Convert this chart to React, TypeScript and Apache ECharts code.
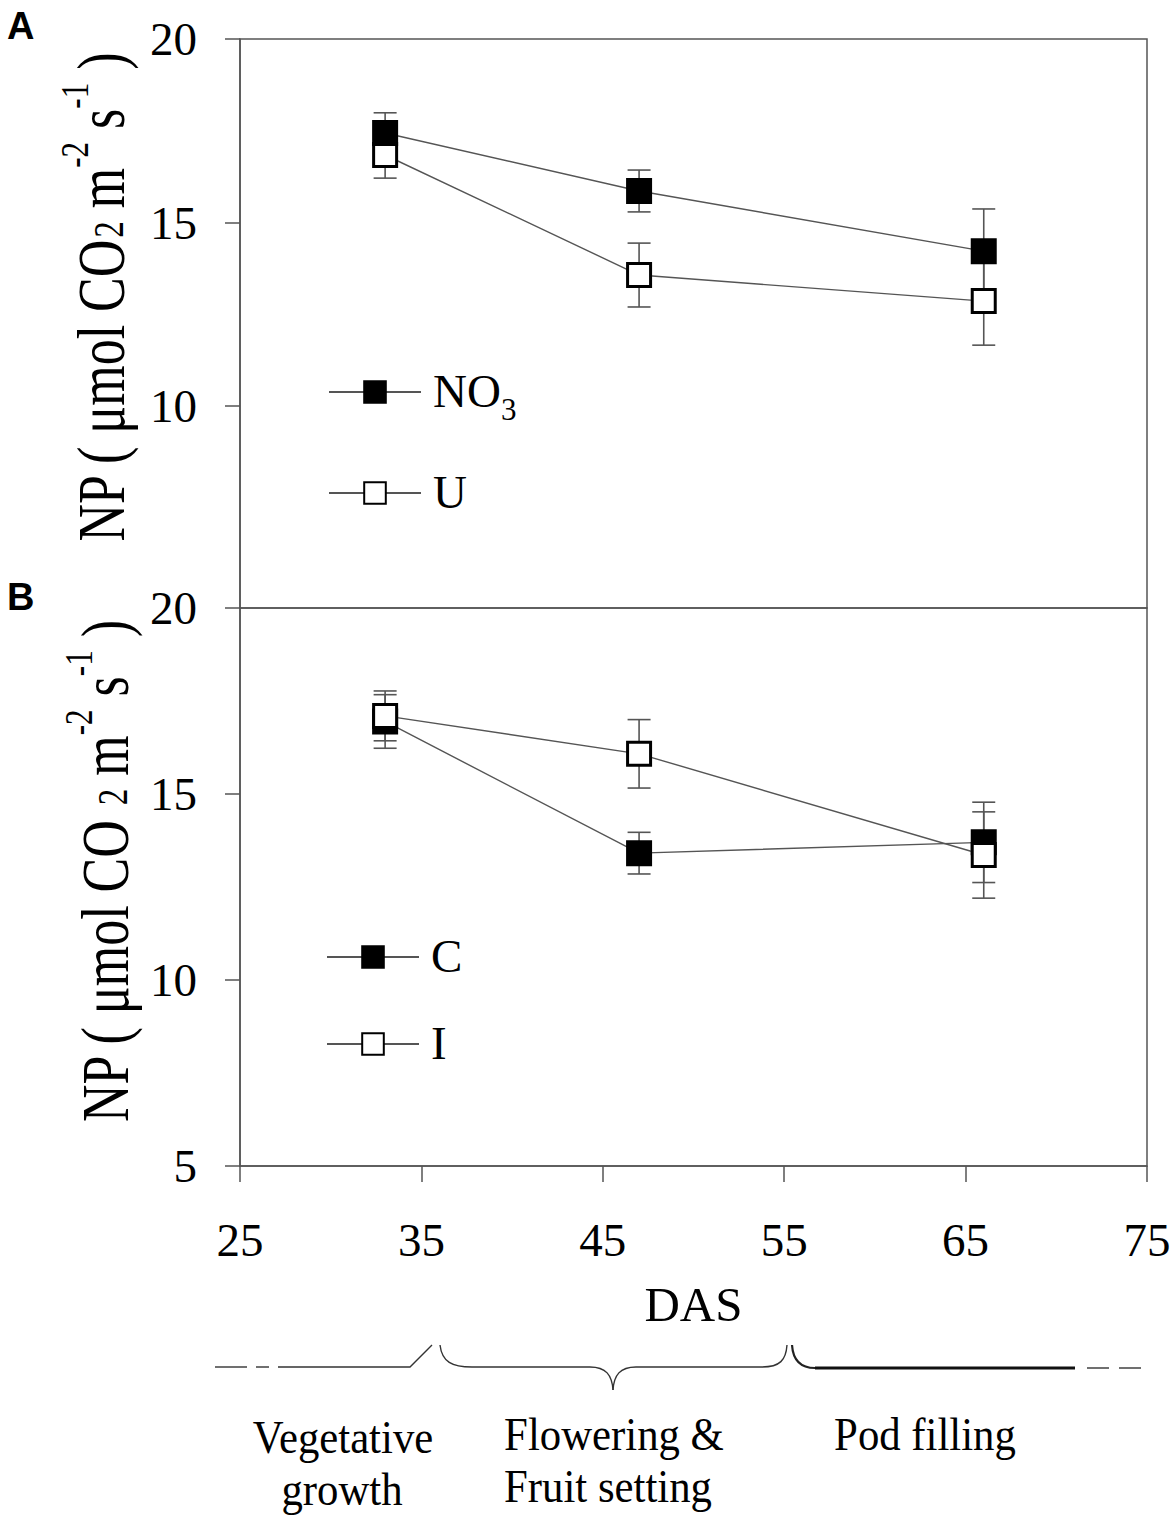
import React, { useEffect, useRef } from "react";
import * as echarts from "echarts";

// ---- data ----
const days = [33, 47, 66];
const no3 = [17.44, 15.86, 14.22];
const no3Err = [0.55, 0.57, 1.15];
const urea = [16.84, 13.57, 12.86];
const ureaErr = [0.63, 0.87, 1.2];
const ctrl = [16.95, 13.41, 13.7];
const ctrlErr = [0.72, 0.56, 1.08];
const inoc = [17.1, 16.08, 13.36];
const inocErr = [0.67, 0.92, 1.16];

const xMin = 25;
const xMax = 75;
const xStep = 10;
const yRangeA = [4.5, 20];
const yTicksA = [10, 15, 20];
const yRangeB = [5, 20];
const yStep = 5;

const stageLabels = [
  ["Vegetative", "growth"],
  ["Flowering &", "Fruit setting"],
  ["Pod filling"],
];

const SERIF = "Liberation Serif";
const GRAY = "#555";

function pairs(vals: number[]) {
  return days.map((d, i) => [d, vals[i]]);
}
function errPairs(vals: number[], errs: number[]) {
  return days.map((d, i) => [d, vals[i], errs[i]]);
}

const errRender = (params: any, api: any) => {
  const x = api.value(0);
  const y = api.value(1);
  const e = api.value(2);
  const top = api.coord([x, y + e]);
  const bot = api.coord([x, y - e]);
  const cap = 11.5;
  const st = { stroke: GRAY, lineWidth: 1.6 };
  return {
    type: "group",
    children: [
      { type: "line", shape: { x1: top[0], y1: top[1], x2: bot[0], y2: bot[1] }, style: st },
      { type: "line", shape: { x1: top[0] - cap, y1: top[1], x2: top[0] + cap, y2: top[1] }, style: st },
      { type: "line", shape: { x1: bot[0] - cap, y1: bot[1], x2: bot[0] + cap, y2: bot[1] }, style: st },
    ],
  };
};

function lineSeries(name: string, vals: number[], idx: number, filled: boolean, z: number) {
  return {
    type: "line",
    name,
    xAxisIndex: idx,
    yAxisIndex: idx,
    data: pairs(vals),
    symbol: "rect",
    symbolSize: 23,
    z,
    lineStyle: { color: GRAY, width: 1.4 },
    itemStyle: {
      color: filled ? "#000" : "#fff",
      borderColor: "#000",
      borderWidth: 3,
    },
  };
}

function errSeries(name: string, vals: number[], errs: number[], idx: number) {
  return {
    type: "custom",
    name,
    xAxisIndex: idx,
    yAxisIndex: idx,
    data: errPairs(vals, errs),
    encode: { x: 0, y: 1 },
    renderItem: errRender,
    z: 1,
  };
}

const legendRich = {
  m: { fontFamily: SERIF, fontSize: 47, lineHeight: 50, verticalAlign: "top", color: "#000", padding: [0, 0, 0, 7] },
  s: { fontFamily: SERIF, fontSize: 31, lineHeight: 31, verticalAlign: "top", color: "#000", padding: [27, 0, 0, 0] },
};

const legendFormatter = (name: string) => {
  if (name === "NO3") return "{m|NO}{s|3}";
  return "{m|" + name + "}{s| }";
};

function measure(text: string, fs: number) {
  const ctx = document.createElement("canvas").getContext("2d");
  if (!ctx) return text.length * fs * 0.5;
  ctx.font = fs + 'px "' + SERIF + '"';
  return ctx.measureText(text).width;
}

// pieces of the y-axis title: [text, fontSize, vertical offset in the text frame]
function titlePieces(gap: string): [string, number, number][] {
  return [
    ["NP ( μmol CO" + gap, 52, 0],
    ["2", 33, 6],
    [" m", 52, 0],
    ["-2", 31, -20],
    [" s", 52, 0],
    ["-1", 31, -20],
    [" )", 52, 0],
  ];
}

function yTitle(cx: number, cy: number, gap: string) {
  const pieces = titlePieces(gap);
  const widths = pieces.map((p) => measure(p[0], p[1]));
  const total = widths.reduce((a, b) => a + b, 0);
  let cursor = -total / 2;
  const children = pieces.map((p, i) => {
    const el = {
      type: "text",
      x: cursor,
      y: p[2],
      style: {
        text: p[0],
        fontFamily: SERIF,
        fontSize: p[1],
        fill: "#000",
        align: "left",
        verticalAlign: "middle",
      },
    };
    cursor += widths[i];
    return el;
  });
  return {
    type: "group",
    x: cx,
    y: cy,
    rotation: Math.PI / 2,
    scaleY: 1.3,
    children,
  };
}

function stageText(text: string, x: number, y: number) {
  return {
    type: "text",
    x,
    y,
    scaleX: 0.93,
    style: {
      text,
      fontFamily: SERIF,
      fontSize: 46,
      fill: "#000",
      align: "center",
      verticalAlign: "middle",
    },
  };
}

const decoStyle = { stroke: "#333", lineWidth: 1.4, fill: null };

export default function App() {
  const ref = useRef<HTMLDivElement>(null);
  useEffect(() => {
    if (!ref.current) return;
    const chart = echarts.init(ref.current, null, { renderer: "svg" });
    const axisLabelStyle = { fontFamily: SERIF, fontSize: 47, color: "#000" };
    const option: any = {
      animation: false,
      backgroundColor: "#fff",
      grid: [
        { left: 240, top: 39, width: 907, height: 569, show: true, borderColor: GRAY, borderWidth: 1.5 },
        { left: 240, top: 608, width: 907, height: 558, show: true, borderColor: GRAY, borderWidth: 1.5 },
      ],
      xAxis: [
        { type: "value", gridIndex: 0, min: xMin, max: xMax, interval: xStep, show: false },
        {
          type: "value",
          gridIndex: 1,
          min: xMin,
          max: xMax,
          interval: xStep,
          axisLine: { show: true, lineStyle: { color: GRAY, width: 1.5 } },
          axisTick: { show: true, inside: false, length: 16, lineStyle: { color: GRAY, width: 1.5 } },
          axisLabel: { ...axisLabelStyle, margin: 50 },
          splitLine: { show: false },
          name: "DAS",
          nameLocation: "middle",
          nameGap: 114,
          nameTextStyle: { fontFamily: SERIF, fontSize: 49, color: "#000" },
        },
      ],
      yAxis: [
        {
          type: "value",
          gridIndex: 0,
          min: yRangeA[0],
          max: yRangeA[1],
          axisLine: { show: true, lineStyle: { color: GRAY, width: 1.5 } },
          axisTick: { show: true, inside: false, length: 15, customValues: yTicksA, lineStyle: { color: GRAY, width: 1.5 } },
          axisLabel: { ...axisLabelStyle, margin: 43, customValues: yTicksA },
          splitLine: { show: false },
        },
        {
          type: "value",
          gridIndex: 1,
          min: yRangeB[0],
          max: yRangeB[1],
          interval: yStep,
          axisLine: { show: true, lineStyle: { color: GRAY, width: 1.5 } },
          axisTick: { show: true, inside: false, length: 15, lineStyle: { color: GRAY, width: 1.5 } },
          axisLabel: { ...axisLabelStyle, margin: 43 },
          splitLine: { show: false },
        },
      ],
      legend: [
        {
          data: ["NO3", "U"],
          orient: "vertical",
          left: 328,
          top: 367,
          itemWidth: 92,
          itemHeight: 27,
          itemGap: 43,
          padding: 0,
          formatter: legendFormatter,
          textStyle: { rich: legendRich },
          selectedMode: false,
        },
        {
          data: ["C", "I"],
          orient: "vertical",
          left: 326,
          top: 932,
          itemWidth: 92,
          itemHeight: 27,
          itemGap: 29,
          padding: 0,
          formatter: legendFormatter,
          textStyle: { rich: legendRich },
          selectedMode: false,
        },
      ],
      series: [
        errSeries("NO3 err", no3, no3Err, 0),
        errSeries("U err", urea, ureaErr, 0),
        lineSeries("U", urea, 0, false, 3),
        lineSeries("NO3", no3, 0, true, 4),
        errSeries("C err", ctrl, ctrlErr, 1),
        errSeries("I err", inoc, inocErr, 1),
        lineSeries("C", ctrl, 1, true, 3),
        lineSeries("I", inoc, 1, false, 4),
      ],
      graphic: [
        { type: "text", x: 7, y: 7, style: { text: "A", fontFamily: "Liberation Sans", fontWeight: "bold", fontSize: 38, fill: "#000" } },
        { type: "text", x: 7, y: 578, style: { text: "B", fontFamily: "Liberation Sans", fontWeight: "bold", fontSize: 38, fill: "#000" } },
        yTitle(101, 297, ""),
        yTitle(105, 871, " "),
        // stage braces
        { type: "line", shape: { x1: 215, y1: 1367, x2: 247, y2: 1367 }, style: decoStyle },
        { type: "line", shape: { x1: 256, y1: 1367, x2: 269, y2: 1367 }, style: decoStyle },
        { type: "polyline", shape: { points: [[278, 1367], [410, 1367], [432, 1345]] }, style: decoStyle },
        { type: "bezierCurve", shape: { x1: 440, y1: 1345, cpx1: 442, cpy1: 1362, cpx2: 452, cpy2: 1367, x2: 472, y2: 1367 }, style: decoStyle },
        { type: "line", shape: { x1: 472, y1: 1367, x2: 590, y2: 1367 }, style: decoStyle },
        { type: "bezierCurve", shape: { x1: 590, y1: 1367, cpx1: 606, cpy1: 1367, cpx2: 612, cpy2: 1375, x2: 613, y2: 1390 }, style: decoStyle },
        { type: "bezierCurve", shape: { x1: 613, y1: 1390, cpx1: 614, cpy1: 1375, cpx2: 620, cpy2: 1367, x2: 636, y2: 1367 }, style: decoStyle },
        { type: "line", shape: { x1: 636, y1: 1367, x2: 762, y2: 1367 }, style: decoStyle },
        { type: "bezierCurve", shape: { x1: 762, y1: 1367, cpx1: 780, cpy1: 1367, cpx2: 786, cpy2: 1360, x2: 787, y2: 1345 }, style: decoStyle },
        { type: "bezierCurve", shape: { x1: 792, y1: 1345, cpx1: 793, cpy1: 1360, cpx2: 800, cpy2: 1368, x2: 815, y2: 1368 }, style: { stroke: "#222", lineWidth: 2.2, fill: null } },
        { type: "line", shape: { x1: 815, y1: 1368, x2: 1075, y2: 1368 }, style: { stroke: "#111", lineWidth: 3 } },
        { type: "line", shape: { x1: 1087, y1: 1368, x2: 1109, y2: 1368 }, style: decoStyle },
        { type: "line", shape: { x1: 1119, y1: 1368, x2: 1141, y2: 1368 }, style: decoStyle },
        stageText(stageLabels[0][0], 343, 1437),
        stageText(stageLabels[0][1], 342, 1489),
        stageText(stageLabels[1][0], 614, 1434),
        stageText(stageLabels[1][1], 608, 1486),
        stageText(stageLabels[2][0], 925, 1434),
      ],
    };
    chart.setOption(option);
    return () => chart.dispose();
  }, []);
  return (
    <div
      ref={ref}
      style={{ position: "absolute", left: 0, top: 0, width: 1176, height: 1519, background: "#fff" }}
    />
  );
}
